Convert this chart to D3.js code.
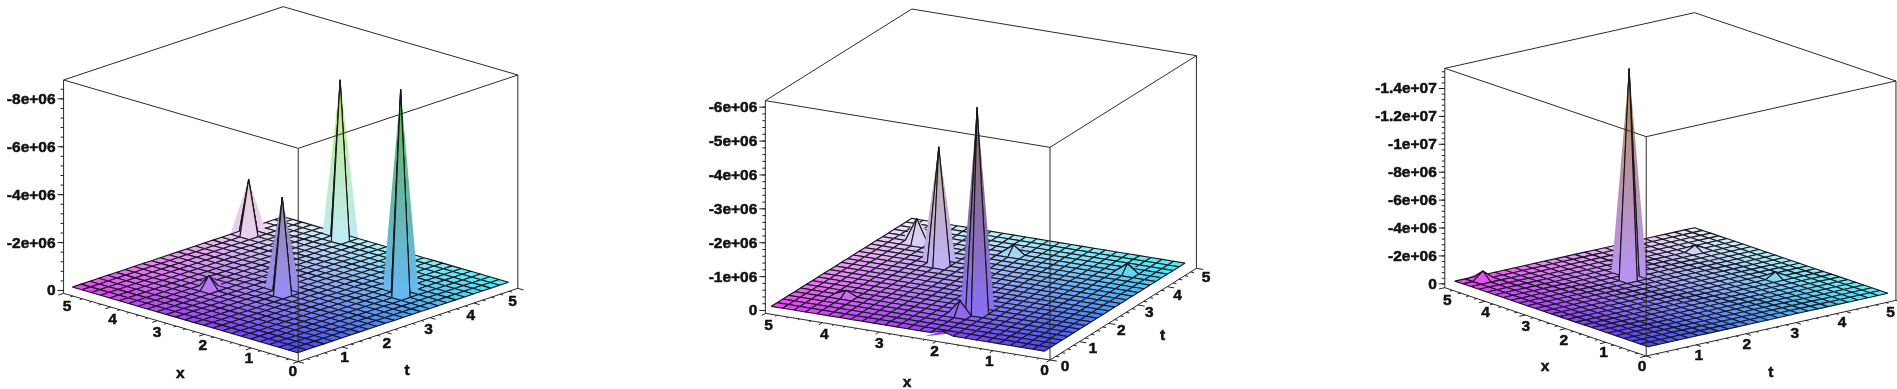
<!DOCTYPE html>
<html>
<head>
<meta charset="utf-8">
<script src="https://cdnjs.cloudflare.com/ajax/libs/d3/7.8.5/d3.min.js"></script>
<style>
  body { margin: 0; background: #fff; overflow: hidden; }
  svg { display: block; filter: blur(0.35px); }
  text { font-family: "Liberation Sans", Arial, sans-serif; font-weight: bold; fill: #111; stroke: #111; stroke-width: 0.5px; }
</style>
</head>
<body>
<div id="chart"></div>
<script>
// tick labels
const axisTicks = [0, 1, 2, 3, 4, 5];
const zTicks1 = [0, -2e6, -4e6, -6e6, -8e6];
const zTicks2 = [0, -1e6, -2e6, -3e6, -4e6, -5e6, -6e6];
const zTicks3 = [0, -2e6, -4e6, -6e6, -8e6, -1e7, -1.2e7, -1.4e7];
const zLabels = { "0": "0", "-1000000": "-1e+06", "-2000000": "-2e+06", "-3000000": "-3e+06",
  "-4000000": "-4e+06", "-5000000": "-5e+06", "-6000000": "-6e+06", "-8000000": "-8e+06",
  "-10000000": "-1e+07", "-12000000": "-1.2e+07", "-14000000": "-1.4e+07" };

// spikes: grid x, grid t, value
const spikeX1 = [4.8, 2.4, 3.6, 1.0, 3.4];
const spikeT1 = [4.0, 2.2, 4.8, 3.4, 1.6];
const spikeZ1 = [-2.28e6, -4.02e6, -6.63e6, -8.58e6, -0.54e6];

const spikeX2 = [2.0, 3.6, 4.4, 2.2, 2.8, 0.8, 4.2, 2.0];
const spikeT2 = [1.4, 3.2, 4.0, 1.2, 4.2, 4.2, 1.2, 0.2];
const spikeZ2 = [-6.05e6, -3.47e6, -0.7e6, -0.4e6, -0.25e6, -0.25e6, -0.15e6, -0.1e6];

const spikeX3 = [3.4, 4.8, 2.0, 4.0];
const spikeT3 = [2.4, 0.6, 4.2, 4.2];
const spikeZ3 = [-15.05e6, -0.6e6, -0.4e6, -0.36e6];

const gridStep = [0.2, 0.4, 0.6, 0.8, 1.0, 1.2, 1.4, 1.6, 1.8, 2.0, 2.2, 2.4, 2.6,
  2.8, 3.0, 3.2, 3.4, 3.6, 3.8, 4.0, 4.2, 4.4, 4.6, 4.8, 5.0];

const width = 1897, height = 389;
const svg = d3.select("#chart").append("svg").attr("width", width).attr("height", height);
const defs = svg.append("defs");
let gradId = 0;

// the zoom crops were read at 2.8x / 3x
const px = (ox, kx) => ([a, b]) => [ox + a / kx, b / 3];

function drawPanel(p) {
  const conv = px(p.ox, p.kx);
  const front = conv(p.front), left = conv(p.left), right = conv(p.right);
  const boxH = p.boxH / 3;
  const g = svg.append("g");

  const xX = d3.scaleLinear().domain([0, 5]).range([front[0], left[0]]);
  const xY = d3.scaleLinear().domain([0, 5]).range([front[1], left[1]]);
  const tX = d3.scaleLinear().domain([0, 5]).range([0, right[0] - front[0]]);
  const tY = d3.scaleLinear().domain([0, 5]).range([0, right[1] - front[1]]);

  // z axis sits on the left edge of the box
  const zero = conv([0, p.zeroY])[1], tickY = conv([0, p.tickY])[1];
  const zAxis = d3.scaleLinear().domain([0, p.tickZ]).range([zero, tickY]);
  const zOff = z => zAxis(z) - left[1];

  const floor = (x, t) => [xX(x) + tX(t), xY(x) + tY(t)];
  const project = (x, t, z) => [xX(x) + tX(t), xY(x) + tY(t) + zOff(z)];

  const rScale = d3.scaleLinear().domain([0, 5]).range([68, 240]);
  const gScale = d3.scaleLinear().domain([0, 5]).range([60, 242]);
  const bScale = d3.scaleLinear().domain([0, d3.min(p.spikeZ)]).range([245, 80]);
  const colour = (x, t, z) => d3.rgb(rScale(x), gScale(t), bScale(z));

  // surface values: flat apart from the spikes
  const zAt = new Map();
  p.spikeX.forEach((x, i) => zAt.set(x.toFixed(1) + "_" + p.spikeT[i].toFixed(1), p.spikeZ[i]));
  const zv = (x, t) => zAt.get(x.toFixed(1) + "_" + t.toFixed(1)) || 0;

  const spikeFill = (x, t, z) => {
    const id = "g" + gradId++;
    const apex = project(x, t, z), base = project(x, t, 0);
    const lg = defs.append("linearGradient").attr("id", id)
      .attr("gradientUnits", "userSpaceOnUse")
      .attr("x1", 0).attr("x2", 0).attr("y1", base[1]).attr("y2", apex[1]);
    lg.append("stop").attr("offset", 0).attr("stop-color", colour(x, t, 0).formatHex());
    lg.append("stop").attr("offset", 1).attr("stop-color", colour(x, t, z).formatHex());
    return "url(#" + id + ")";
  };

  // back to front
  const cells = [];
  for (let i = 0; i < gridStep.length - 1; i++) {
    for (let j = 0; j < gridStep.length - 1; j++) cells.push([i, j]);
  }
  cells.sort((a, b) => (b[0] + b[1]) - (a[0] + a[1]));

  const surf = g.append("g").attr("stroke-linejoin", "bevel");
  const d = 0.2;
  cells.forEach(([i, j]) => {
    const x0 = gridStep[i], x1 = gridStep[i + 1], t0 = gridStep[j], t1 = gridStep[j + 1];
    const verts = [[x0, t0], [x1, t0], [x1, t1], [x0, t1]].map(v => [v[0], v[1], zv(v[0], v[1])]);
    const pts = verts.map(v => project(v[0], v[1], v[2]));
    const hi = d3.leastIndex(verts, (a, b) => a[2] - b[2]);
    const spiky = verts[hi][2] < 0;

    // spike seen from the front corner: its wide back sheet goes in behind everything else
    if (verts[0][2] < 0) {
      const sheet = [project(x0, t0, verts[0][2]), project(x0 + d, t0 - d, 0), project(x0 - d, t0 + d, 0)];
      surf.append("path").attr("d", d3.line()(sheet) + "Z").attr("fill", spikeFill(x0, t0, verts[0][2]));
    }

    let fill = colour((x0 + x1) / 2, (t0 + t1) / 2, 0).formatHex();
    if (spiky) fill = spikeFill(verts[hi][0], verts[hi][1], verts[hi][2]);
    surf.append("path")
      .attr("d", d3.line()(pts) + "Z")
      .attr("fill", fill).attr("stroke", spiky ? "none" : fill).attr("stroke-width", 0.4);
    surf.append("path")
      .attr("d", d3.line()(pts) + "Z")
      .attr("fill", "none").attr("stroke", "#15151f").attr("stroke-width", 1.1);
  });

  // box frame
  const up = ([a, b]) => [a, b - boxH];
  const frontTop = up(front), leftTop = up(left), rightTop = up(right);
  const backTop = [left[0] + right[0] - front[0], left[1] + right[1] - front[1] - boxH];
  const frame = g.append("g").attr("fill", "none").attr("stroke", "#2a2a2a").attr("stroke-width", 1);
  [[leftTop, frontTop], [frontTop, rightTop], [rightTop, backTop], [backTop, leftTop],
    [left, leftTop], [front, frontTop], [right, rightTop], [left, front], [front, right]]
    .forEach(s => frame.append("path").attr("d", d3.line()(s)));

  // z axis
  const zg = g.append("g").attr("transform", `translate(${left[0]},0)`);
  const zDomainTop = zAxis.invert(leftTop[1]), zDomainBot = zAxis.invert(left[1]);
  const zFull = zAxis.copy().domain([zDomainBot, zDomainTop]).range([left[1], leftTop[1]]);
  const minor = d3.range(0, zDomainTop, -p.zMinor);
  zg.append("g").call(d3.axisLeft(zFull).tickValues(minor).tickSize(3).tickFormat(""))
    .call(a => a.select(".domain").remove());
  zg.append("g").call(d3.axisLeft(zFull).tickValues(p.zTicks).tickSize(6).tickPadding(2)
      .tickFormat(v => zLabels[String(v)]))
    .call(a => a.select(".domain").remove())
    .selectAll("text").style("font-size", "15.5px").attr("fill", "#111");
  zg.selectAll("line").attr("stroke", "#222");

  // x and t axes
  const axes = g.append("g").attr("stroke", "#222").attr("stroke-width", 1);
  d3.range(0, 25.5).map(v => v * 0.2).forEach(v => {
    const major = Math.abs(v - Math.round(v)) < 1e-6;
    const len = major ? 0.12 : 0.06;
    axes.append("path").attr("d", d3.line()([floor(v, 0), floor(v, -len)]));
    axes.append("path").attr("d", d3.line()([floor(0, v), floor(-len, v)]));
  });

  const labels = g.append("g").attr("text-anchor", "middle").style("font-size", "15.5px");
  const putLabels = (vals, arr) => vals.forEach((v, i) => {
    const [a, b] = conv(arr[i]);
    labels.append("text").attr("x", a).attr("y", b).attr("dy", "0.36em").text(v);
  });
  putLabels(p.xVals, p.xPos);
  putLabels(p.tVals, p.tPos);
  putLabels(["x", "t"], p.titlePos);
}

drawPanel({ ox: 0, kx: 2.8, front: [835, 1085], left: [178, 880], right: [1450, 865], boxH: 640,
  zeroY: 870, tickY: 295, tickZ: -8e6, zMinor: 4e5, zTicks: zTicks1,
  spikeX: spikeX1, spikeT: spikeT1, spikeZ: spikeZ1,
  xVals: axisTicks, xPos: [[820, 1112], [697, 1072], [568, 1033], [440, 993], [315, 955], [188, 915]],
  tVals: axisTicks.slice(1), tPos: [[965, 1070], [1083, 1028], [1200, 985], [1318, 943], [1435, 902]],
  titlePos: [[505, 1117], [1140, 1107]] });

drawPanel({ ox: 700, kx: 2.8, front: [980, 1080], left: [183, 940], right: [1390, 805], boxH: 638,
  zeroY: 930, tickY: 320, tickZ: -6e6, zMinor: 2e5, zTicks: zTicks2,
  spikeX: spikeX2, spikeT: spikeT2, spikeZ: spikeZ2,
  xVals: axisTicks, xPos: [[965, 1108], [810, 1080], [657, 1052], [502, 1027], [348, 1000], [192, 972]],
  tVals: axisTicks, tPos: [[1022, 1095], [1100, 1042], [1180, 988], [1258, 935], [1337, 882], [1417, 830]],
  titlePos: [[580, 1143], [1295, 1002]] });

drawPanel({ ox: 1340, kx: 2.815, front: [862, 1068], left: [295, 863], right: [1565, 901], boxH: 658,
  zeroY: 850, tickY: 264, tickZ: -1.4e7, zMinor: 4e5, zTicks: zTicks3,
  spikeX: spikeX3, spikeT: spikeT3, spikeZ: spikeZ3,
  xVals: axisTicks, xPos: [[850, 1095], [742, 1055], [630, 1017], [523, 975], [410, 935], [302, 897]],
  tVals: axisTicks.slice(1), tPos: [[1010, 1063], [1145, 1030], [1280, 998], [1413, 965], [1550, 935]],
  titlePos: [[577, 1097], [1213, 1115]] });
</script>
</body>
</html>
